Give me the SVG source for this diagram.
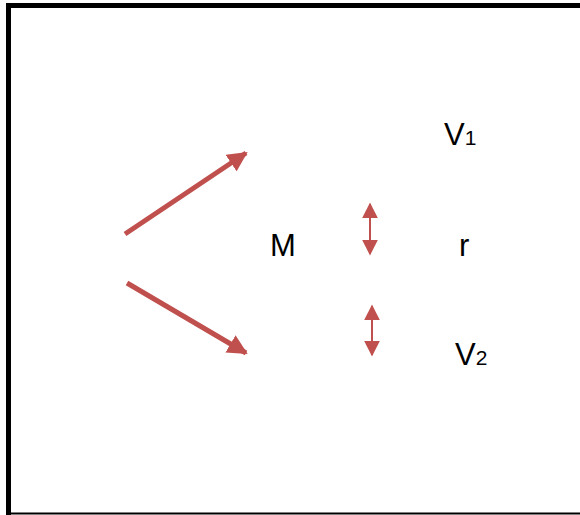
<svg xmlns="http://www.w3.org/2000/svg" width="580" height="515" viewBox="0 0 580 515">
<style>
.lbl{font-family:"Liberation Sans",Arial,sans-serif;font-size:31px;fill:#000}
.sub{font-size:21px}
.arr{stroke:#c0504d;fill:none}
</style>
<defs>
<marker id="head" viewBox="0 0 10 10" refX="9" refY="5" markerWidth="4" markerHeight="4" markerUnits="strokeWidth" orient="auto">
<path d="M0,0 L10,5 L0,10 z" fill="#c0504d"/>
</marker>
<marker id="dh" viewBox="0 0 10 10" refX="9" refY="5" markerWidth="8" markerHeight="8" markerUnits="strokeWidth" orient="auto-start-reverse">
<path d="M0,0 L10,5 L0,10 z" fill="#c0504d"/>
</marker>
</defs>
<rect x="0" y="0" width="580" height="515" fill="#fff"/>
<path d="M8.5,515 V5.5 H585" fill="none" stroke="#000" stroke-width="5"/>
<line x1="8" y1="513.5" x2="580" y2="513.5" stroke="#000" stroke-width="2"/>
<g id="connectors">
<line class="arr" x1="125" y1="234" x2="246" y2="153" stroke-width="5" marker-end="url(#head)"/>
<line class="arr" x1="127" y1="283" x2="246" y2="353" stroke-width="5" marker-end="url(#head)"/>
<line class="arr" x1="370" y1="204" x2="370" y2="254" stroke-width="2" marker-start="url(#dh)" marker-end="url(#dh)"/>
<line class="arr" x1="372" y1="306" x2="372" y2="355" stroke-width="2" marker-start="url(#dh)" marker-end="url(#dh)"/>
</g>
<g id="V1"><text class="lbl" x="444" y="145">V<tspan class="sub">1</tspan></text></g>
<g id="M"><text class="lbl" x="270" y="256">M</text></g>
<g id="r"><text class="lbl" x="459" y="256">r</text></g>
<g id="V2"><text class="lbl" x="455" y="365">V<tspan class="sub">2</tspan></text></g>
</svg>
